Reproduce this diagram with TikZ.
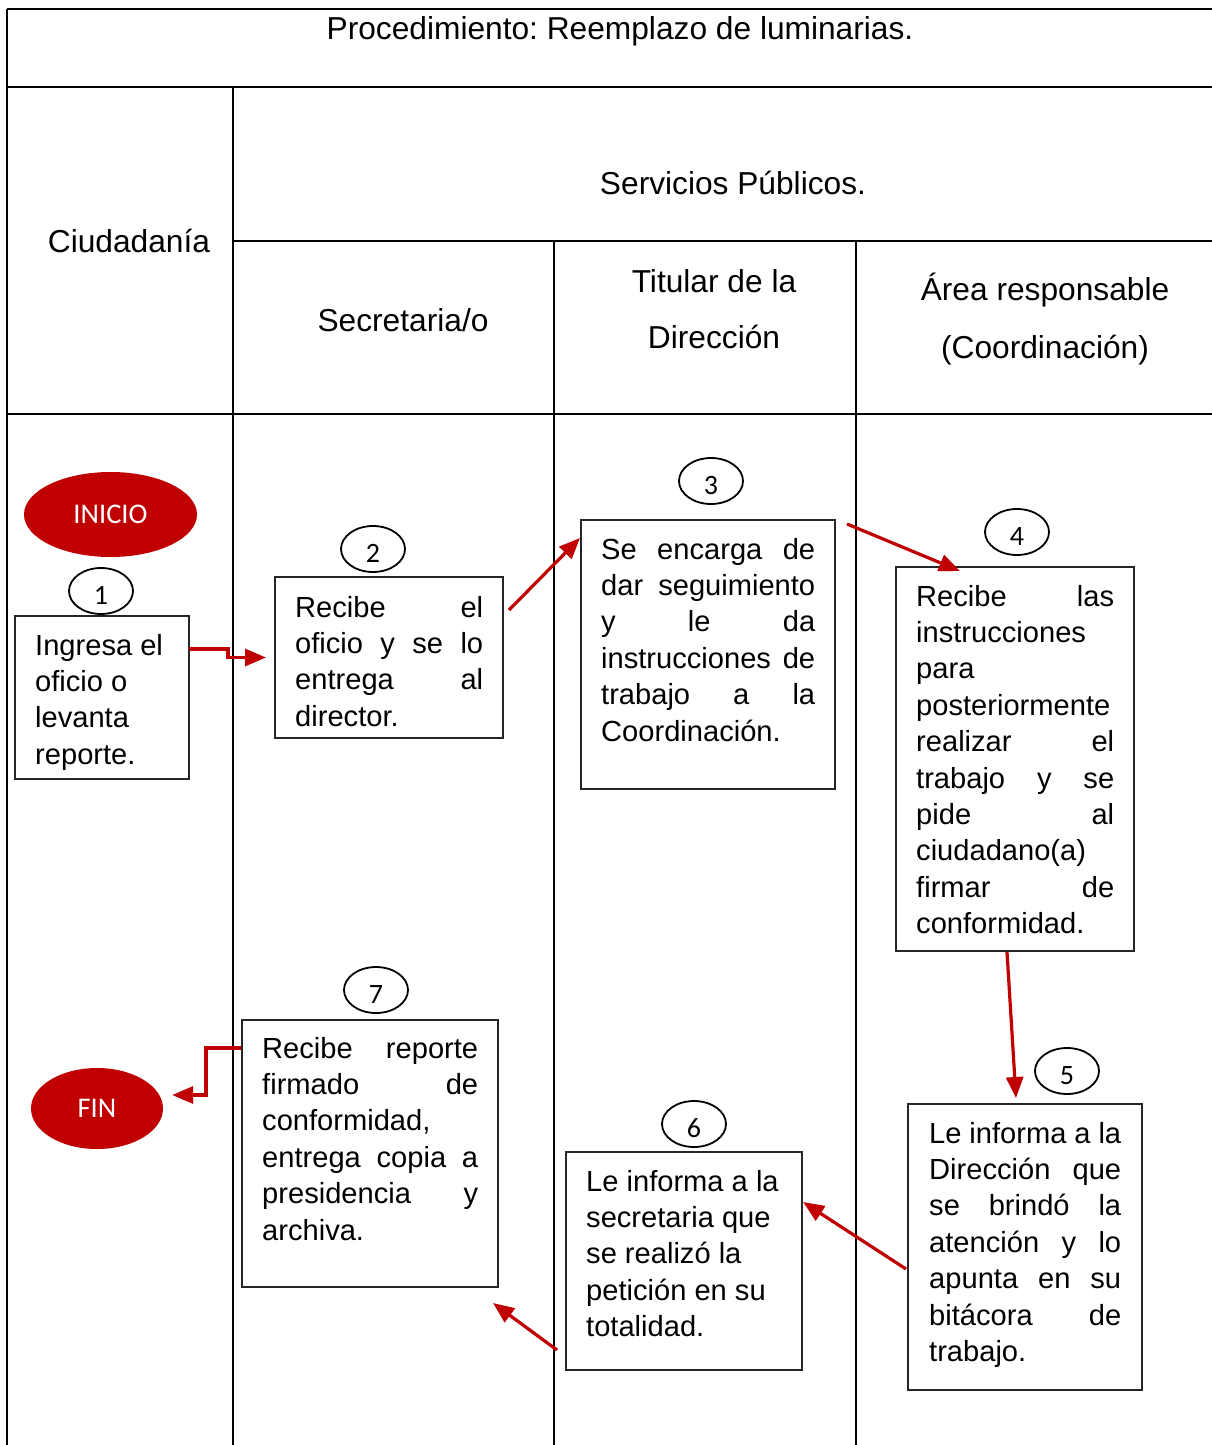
\documentclass[tikz,border=0pt]{standalone}
\usepackage{fontspec}
\setmainfont{Liberation Sans}
\newfontfamily\calfont{Carlito}
\frenchspacing
\usetikzlibrary{shapes.geometric,arrows.meta,calc}
\definecolor{flowred}{HTML}{C00000}
% one justified line of a text block
\newcommand\jline[1]{\makebox[\linewidth][s]{#1}}
\begin{document}
\begin{tikzpicture}[x=1pt,y=-1pt,
  grid/.style={line width=2.6pt},
  stepbox/.style={draw=black!85,line width=1.3pt,inner sep=0,outer sep=0},
  boxtext/.style={anchor=base west,inner sep=0,font=\fontsize{29.1}{36.4}\selectfont},
  head/.style={anchor=base,inner sep=0,font=\fontsize{31.7}{38}\selectfont},
  numcirc/.style={draw,ellipse,line width=1.8pt,minimum width=64pt,minimum height=46pt,inner sep=0,
    text height=26pt,text depth=0pt,font=\calfont\fontsize{28}{30}\selectfont},
  terminal/.style={ellipse,fill=flowred,text=white,inner sep=0,font=\calfont\fontsize{28.5}{30}\selectfont},
  arr/.style={draw=flowred,line width=3.2pt,-{Triangle[length=21pt,width=17pt]}}
]
\useasboundingbox (0,0) rectangle (1212,1445);

% table frame
\draw[grid] (7,9) -- (1212,9);
\draw[grid] (7,87) -- (1212,87);
\draw[grid] (233,241) -- (1212,241);
\draw[grid] (7,414) -- (1212,414);
\draw[grid] (7,9) -- (7,1445);
\draw[grid] (233,87) -- (233,1445);
\draw[grid] (554,241) -- (554,1445);
\draw[grid] (856,241) -- (856,1445);

% headers
\node[head] (title) at (620,40) {Procedimiento: Reemplazo de luminarias.};
\node[head] (ciud) at (129,252) {Ciudadanía};
\node[head] (serv) at (733,194) {Servicios Públicos.};
\node[head] (secr) at (403,331) {Secretaria/o};
\node[head] (tit1) at (714,292) {Titular de la};
\node[head] (tit2) at (714,348) {Dirección};
\node[head] (area1) at (1045,300) {Área responsable};
\node[head] (area2) at (1045,358) {(Coordinación)};

% start / end
\node[terminal,minimum width=173pt,minimum height=85pt] (inicio) at (110.5,514.5) {INICIO};
\node[terminal,minimum width=132pt,minimum height=81pt] (fin) at (97,1108.5) {FIN};

% step numbers
\node[numcirc] (c1) at (101,591) {1};
\node[numcirc] (c2) at (373,549) {2};
\node[numcirc] (c3) at (711,481) {3};
\node[numcirc] (c4) at (1017,532) {4};
\node[numcirc] (c5) at (1067,1071) {5};
\node[numcirc] (c6) at (694,1124) {6};
\node[numcirc] (c7) at (376,990) {7};

% step boxes
\node[stepbox,minimum width=174pt,minimum height=163pt] (b1) at (102,697.5) {};
\node[stepbox,minimum width=228pt,minimum height=161pt] (b2) at (389,657.5) {};
\node[stepbox,minimum width=254pt,minimum height=269pt] (b3) at (708,654.5) {};
\node[stepbox,minimum width=238pt,minimum height=384pt] (b4) at (1015,759) {};
\node[stepbox,minimum width=234pt,minimum height=286pt] (b5) at (1025,1247) {};
\node[stepbox,minimum width=236pt,minimum height=218pt] (b6) at (684,1261) {};
\node[stepbox,minimum width=256pt,minimum height=267pt] (b7) at (370,1153.5) {};

% step texts
\node[boxtext] (t1) at (35,655) {\parbox[t]{150pt}{Ingresa el\\oficio o\\levanta\\reporte.}};
\node[boxtext] (t2) at (295,617) {\parbox[t]{188pt}{\jline{Recibe el}\\\jline{oficio y se lo}\\\jline{entrega al}\\director.}};
\node[boxtext] (t3) at (601,559) {\parbox[t]{214pt}{\jline{Se encarga de}\\\jline{dar seguimiento}\\\jline{y le da}\\\jline{instrucciones de}\\\jline{trabajo a la}\\Coordinación.}};
\node[boxtext] (t4) at (916,606) {\parbox[t]{198pt}{\jline{Recibe las}\\instrucciones\\para\\posteriormente\\\jline{realizar el}\\\jline{trabajo y se}\\\jline{pide al}\\ciudadano(a)\\\jline{firmar de}\\conformidad.}};
\node[boxtext] (t5) at (929,1143) {\parbox[t]{192pt}{\jline{Le informa a la}\\\jline{Dirección que}\\\jline{se brindó la}\\\jline{atención y lo}\\\jline{apunta en su}\\\jline{bitácora de}\\trabajo.}};
\node[boxtext] (t6) at (586,1191) {\parbox[t]{200pt}{Le informa a la\\secretaria que\\se realizó la\\petición en su\\totalidad.}};
\node[boxtext] (t7) at (262,1058) {\parbox[t]{216pt}{\jline{Recibe reporte}\\\jline{firmado de}\\conformidad,\\\jline{entrega copia a}\\\jline{presidencia y}\\archiva.}};

% connectors
\draw[arr] ($(b1.north east)+(0,33)$) -- ++(39,0) |- ($(b2.west)+(-9,0)$);
\draw[arr] ($(b2.north east)+(6,33)$) -- ($(b3.north west)+(-1,18)$);
\draw[arr] ($(b3.north east)+(12,4)$) -- ($(b4.north west)+(64,4)$);
\draw[arr] ($(b4.south)+(-8,1)$) -- ($(b5.north)+(-9,-6)$);
\draw[arr] ($(b5.west)+(-2,22)$) -- ($(b6.east)+(1,-59)$);
\draw[arr] ($(b6.west)+(-9,89)$) -- ($(b7.south east)+(-5,16)$);
\draw[arr] ($(b7.north west)+(-1,28)$) -- ++(-35,0) |- ($(fin.east)+(9,-13.5)$);
\end{tikzpicture}
\end{document}
